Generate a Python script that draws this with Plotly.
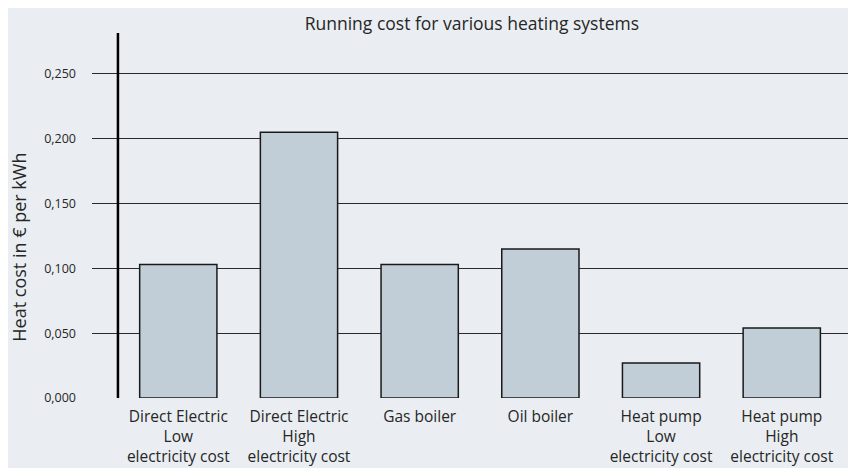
import plotly.graph_objects as go

categories = [
    "Direct Electric<br>Low<br>electricity cost",
    "Direct Electric<br>High<br>electricity cost",
    "Gas boiler",
    "Oil boiler",
    "Heat pump<br>Low<br>electricity cost",
    "Heat pump<br>High<br>electricity cost",
]
values = [0.103, 0.205, 0.103, 0.115, 0.027, 0.054]
y_tickvals = [0.0, 0.05, 0.10, 0.15, 0.20, 0.25]
y_ticktext = ["0,000", "0,050", "0,100", "0,150", "0,200", "0,250"]
title_text = "Running cost for various heating systems"
y_title = "Heat cost in € per kWh"

FONT = "Open Sans"
TXT = "#262626"
BG = "#eaeef2"

fig = go.Figure()
fig.add_trace(go.Bar(
    x=list(range(len(categories))),
    y=values,
    width=0.64,
    marker=dict(color="#c1ced7", line=dict(color="#1a1a1a", width=1.5)),
    hoverinfo="skip",
))

fig.update_layout(
    width=848, height=460,
    paper_bgcolor=BG, plot_bgcolor=BG,
    margin=dict(l=84, r=0, t=25, b=70),
    showlegend=False,
    font=dict(family=FONT, color=TXT),
    title=dict(text=title_text, x=0.547, xanchor="center", y=0.965, yanchor="middle",
               font=dict(size=17.5, color=TXT, family=FONT)),
    xaxis=dict(
        range=[-0.715, 5.615],
        tickvals=list(range(len(categories))),
        ticktext=categories,
        showgrid=False, zeroline=False, showline=False,
        ticks="", ticklabelstandoff=7,
        tickfont=dict(size=15.5, color=TXT),
        fixedrange=True,
    ),
    yaxis=dict(
        range=[0, 0.2816],
        tickvals=y_tickvals,
        ticktext=y_ticktext,
        showgrid=True, gridcolor="#2a2a2a", gridwidth=1.2,
        zeroline=False, showline=False,
        ticks="", ticklabelstandoff=15,
        tickfont=dict(size=12.5, color=TXT),
        fixedrange=True,
    ),
    shapes=[dict(type="line", xref="x", yref="paper", x0=-0.5, x1=-0.5, y0=0, y1=1,
                 line=dict(color="#000000", width=2.5), layer="above")],
    annotations=[dict(text=y_title, xref="paper", yref="paper", x=-0.0955, xanchor="center",
                      y=0.412, yanchor="middle", textangle=-90, showarrow=False,
                      font=dict(size=18, color=TXT, family=FONT))],
)

fig.write_html("out.html")
